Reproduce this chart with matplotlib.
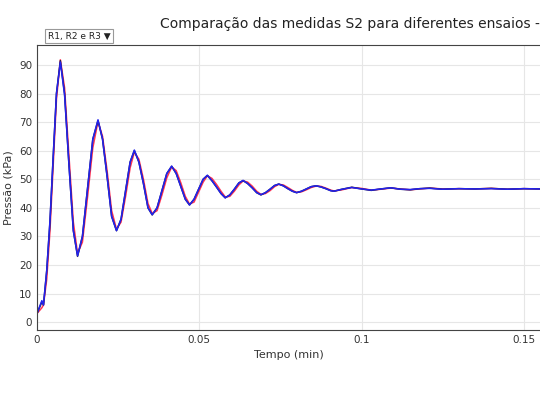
import matplotlib
matplotlib.use("Agg")
import matplotlib.pyplot as plt

t = [0.0,0.0015,0.002,0.003,0.004,0.005,0.006,0.0072,0.0085,0.0098,0.0112,0.0125,0.014,0.0156,0.0172,0.0188,
     0.0202,0.0216,0.023,0.0245,0.0259,0.0273,0.0287,0.030,0.0314,0.0328,0.0342,0.0355,0.0370,0.0385,0.040,0.0415,
     0.0429,0.0443,0.0457,0.047,0.0484,0.0498,0.0512,0.0525,0.0539,0.0553,0.0567,0.058,0.0594,0.0608,0.0622,0.0635,
     0.0649,0.0663,0.0677,0.069,0.0704,0.0718,0.0732,0.0745,0.0759,0.0773,0.0787,0.080,0.0815,0.083,0.0845,0.086,
     0.0875,0.089,0.0905,0.0915,0.094,0.097,0.1,0.103,0.106,0.109,0.112,0.115,0.118,0.121,0.125,0.13,0.135,0.14,0.145,0.15,0.155]
r2 = [3,7,6,18,35,58,80,91.5,80,56,32,23,30,47,64,70.5,
      64,51,37,32,36,46,56,60,56,48.5,40,37.5,40,46,52,54.5,
      52,47.5,43,41,43,46.5,50,51.3,49.5,47.3,45,43.5,44.5,46.5,48.7,49.5,
      48.5,47,45.3,44.5,45.3,46.5,47.8,48.3,47.7,46.7,45.8,45.3,45.8,46.6,47.4,47.7,
      47.3,46.7,46.0,45.8,46.5,47.2,46.6,46.1,46.6,47.0,46.5,46.3,46.7,46.9,46.5,46.7,46.6,46.8,46.5,46.7,46.6]
r1 = [3,5,6,15,32,55,78,91.8,82,59,35,24,28,44,61,70.2,
      65,53,39,32.5,35,44,54,59.5,57,50,41.5,38,39,44.5,50.5,54.3,
      53,48.8,44,41.3,42,45.5,49,51.2,50.3,48.2,45.8,43.8,44,45.8,48,49.4,
      49,47.6,45.8,44.7,45,46,47.4,48.2,48,47.1,46.1,45.4,45.6,46.3,47.1,47.6,
      47.5,46.9,46.2,45.9,46.3,47.1,46.8,46.2,46.5,46.9,46.6,46.3,46.6,46.9,46.6,46.7,46.6,46.8,46.5,46.7,46.6]
r3 = [3,7.5,6,18,35.5,58,80,91,79.5,56,32,23.2,30,47,64,70.8,
      64,51,37,32,36,46,56,60.2,56,48.5,40,37.6,40,46,52,54.6,
      52,47.5,43,41,43,46.5,50,51.4,49.5,47.3,45,43.5,44.5,46.5,48.7,49.6,
      48.5,47,45.3,44.6,45.3,46.5,47.8,48.3,47.7,46.7,45.8,45.3,45.8,46.6,47.4,47.7,
      47.3,46.7,46.0,45.8,46.5,47.1,46.6,46.2,46.6,47.0,46.5,46.4,46.7,46.8,46.5,46.7,46.6,46.7,46.5,46.7,46.6]

fig = plt.figure(figsize=(5.4, 4.05), dpi=100)
ax = fig.add_axes([0.0685, 0.185, 0.9315, 0.704])
ax.plot(t, r1, color="#ff3355", lw=1.1)
ax.plot(t, r2, color="#222244", lw=1.1)
ax.plot(t, r3, color="#2222ee", lw=1.1)
ax.set_xlim(0, 0.155)
ax.set_ylim(-2.8, 97)
ax.set_yticks(range(0, 91, 10))
ax.set_xticks([0, 0.05, 0.1, 0.15])
ax.set_xticklabels(["0", "0.05", "0.1", "0.15"])
ax.tick_params(labelsize=7.5, length=0, colors="#333333")
ax.grid(color="#e6e6e6", lw=0.8)
ax.set_axisbelow(True)
for s in ax.spines.values():
    s.set_color("#444444")
    s.set_linewidth(0.8)
ax.spines["right"].set_visible(False)
ax.set_xlabel("Tempo (min)", fontsize=8, color="#333333")
ax.set_ylabel("Pressão (kPa)", fontsize=8, color="#333333")
fig.text(0.296, 0.932, "Comparação das medidas S2 para diferentes ensaios - Válvula", fontsize=10, color="#222222")
fig.text(0.088, 0.905, "R1, R2 e R3 ▼", fontsize=6.5, color="#222222",
         bbox=dict(boxstyle="square,pad=0.3", fc="white", ec="#999999", lw=0.8))
fig.savefig("out.png", dpi=100)
